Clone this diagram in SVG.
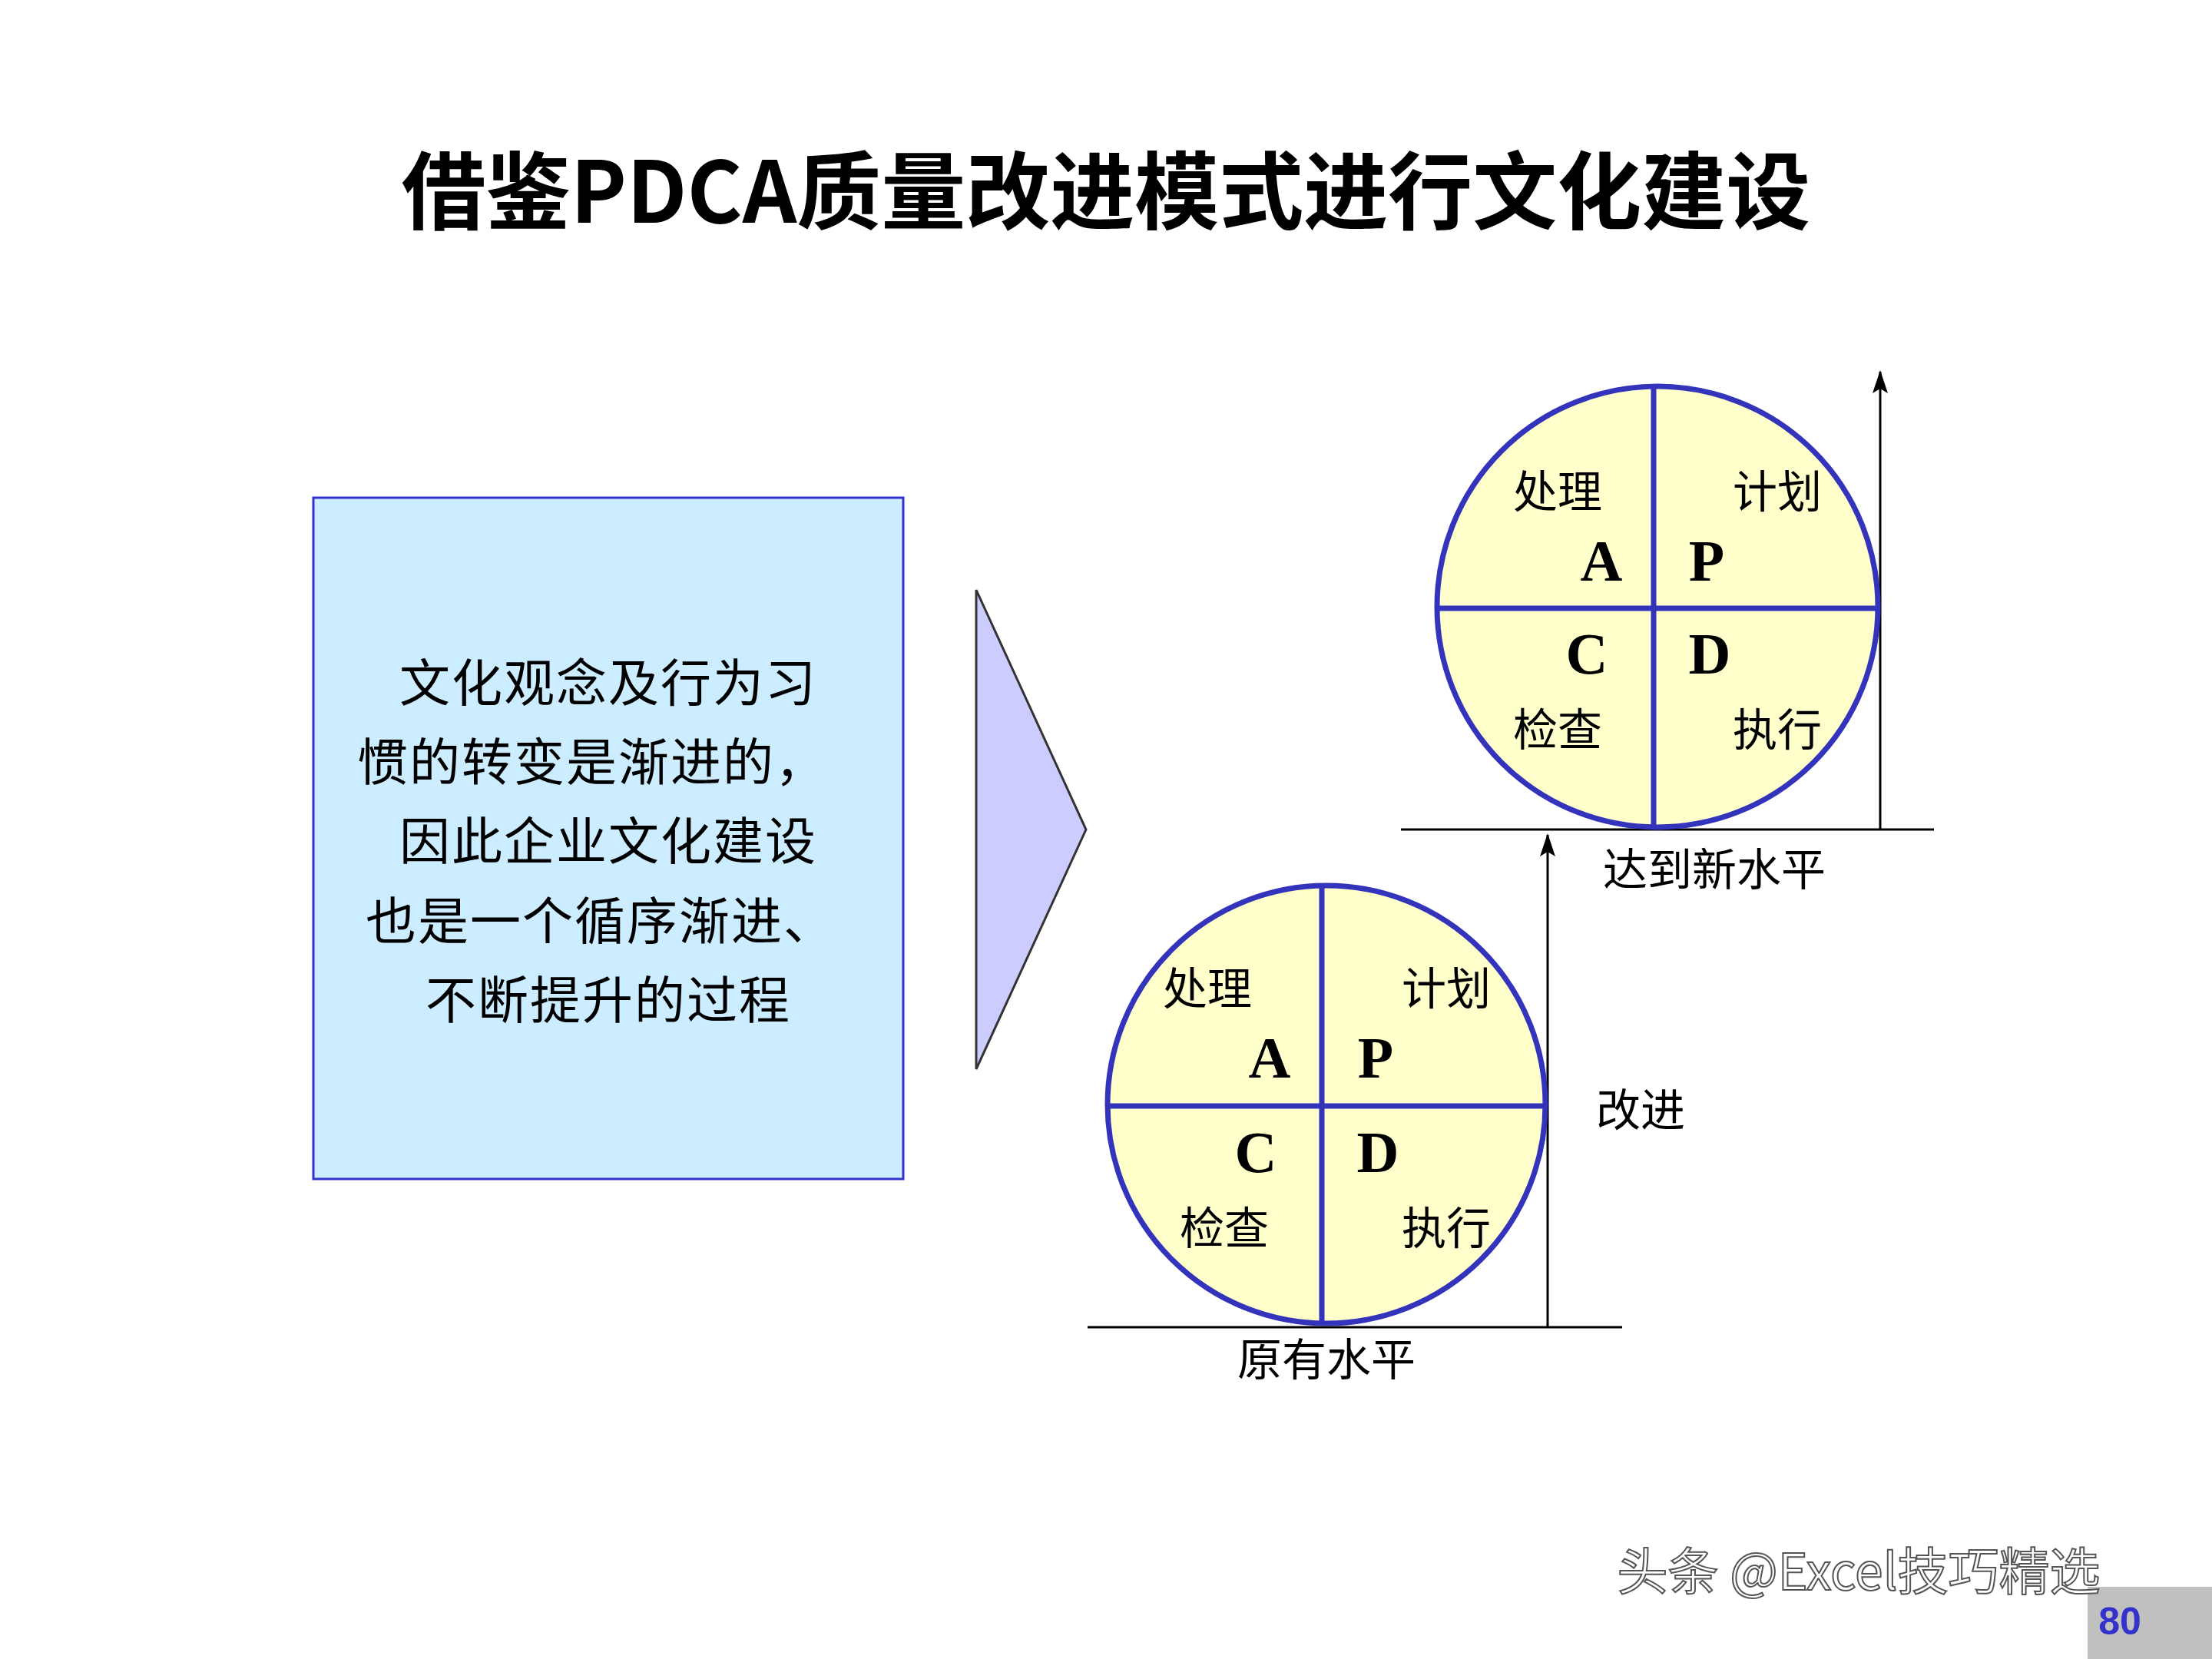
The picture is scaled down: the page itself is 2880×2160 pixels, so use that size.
<svg xmlns="http://www.w3.org/2000/svg" width="2880" height="2160" viewBox="0 0 2880 2160">
<defs>
<marker id="ah" markerWidth="30" markerHeight="20" refX="28" refY="10" orient="auto" markerUnits="userSpaceOnUse" viewBox="0 0 30 20"><path d="M0,0 L30,10 L0,20 L6,10 Z" fill="#000"/></marker>
<style>
.cj{font-family:"Noto Sans CJK SC","Liberation Sans",sans-serif;font-size:58px;fill:#000;text-anchor:middle}
.lt{font-family:"Liberation Serif",serif;font-weight:bold;font-size:76px;fill:#000;text-anchor:middle}
.cir{fill:#FFFFCC;stroke:#3333BB;stroke-width:7}
.div{stroke:#3333BB;stroke-width:7}
.ln{stroke:#000;stroke-width:3;fill:none}
</style>
</defs>
<rect width="2880" height="2160" fill="#fff"/>
<text x="1440" y="290" font-family="Noto Sans CJK SC,sans-serif" font-weight="bold" font-size="110" text-anchor="middle">借鉴PDCA质量改进模式进行文化建设</text>
<g id="textbox">
<rect x="408" y="648" width="768" height="887" fill="#CCECFF" stroke="#3333CC" stroke-width="3"/>
<g font-family="Noto Sans CJK SC,sans-serif" font-size="66" text-anchor="middle" fill="#000" letter-spacing="2">
<text x="792" y="913">文化观念及行为习</text>
<text x="771" y="1016">惯的转变是渐进的，</text>
<text x="792" y="1119">因此企业文化建设</text>
<text x="782" y="1223">也是一个循序渐进、</text>
<text x="792" y="1326">不断提升的过程</text>
</g>
</g>
<g id="triangle"><polygon points="1271,768 1414,1080 1271,1392" fill="#CCCCFF" stroke="#333" stroke-width="3"/></g>
<g id="connectors">
<line class="ln" x1="1824" y1="1080" x2="2518" y2="1080"/>
<line class="ln" x1="2448" y1="1080" x2="2448" y2="484" marker-end="url(#ah)"/>
<line class="ln" x1="1416" y1="1728" x2="2112" y2="1728"/>
<line class="ln" x1="2015" y1="1728" x2="2015" y2="1087" marker-end="url(#ah)"/>
</g>
<g id="upper">
<circle class="cir" cx="2158" cy="790" r="287"/>
<line class="div" x1="2153" y1="503" x2="2153" y2="1077"/>
<line class="div" x1="1871" y1="792" x2="2445" y2="792"/>
<text class="cj" x="2028" y="661">处理</text><text class="cj" x="2314" y="661">计划</text>
<text class="lt" x="2085" y="756">A</text><text class="lt" x="2222" y="756">P</text>
<text class="lt" x="2066" y="877">C</text><text class="lt" x="2226" y="877">D</text>
<text class="cj" x="2028" y="971">检查</text><text class="cj" x="2314" y="971">执行</text>
</g>
<g id="lower">
<circle class="cir" cx="1727" cy="1438" r="285"/>
<line class="div" x1="1721" y1="1153" x2="1721" y2="1723"/>
<line class="div" x1="1442" y1="1440" x2="2012" y2="1440"/>
<text class="cj" x="1572" y="1308">处理</text><text class="cj" x="1883" y="1308">计划</text>
<text class="lt" x="1653" y="1403">A</text><text class="lt" x="1791" y="1403">P</text>
<text class="lt" x="1635" y="1526">C</text><text class="lt" x="1794" y="1526">D</text>
<text class="cj" x="1594" y="1620">检查</text><text class="cj" x="1883" y="1620">执行</text>
</g>
<text class="cj" x="2232" y="1153">达到新水平</text>
<text class="cj" x="2136" y="1466">改进</text>
<text class="cj" x="1727" y="1791">原有水平</text>
<rect x="2718" y="2066" width="162" height="94" fill="#C0C0C0"/>
<text x="2760" y="2128" font-family="Liberation Sans,sans-serif" font-weight="bold" font-size="50" fill="#3333CC" text-anchor="middle">80</text>
<text x="2420" y="2070" font-family="Noto Sans CJK SC,sans-serif" font-size="66" fill="#fff" stroke="#555" stroke-width="2" text-anchor="middle">头条 @Excel技巧精选</text>
</svg>
